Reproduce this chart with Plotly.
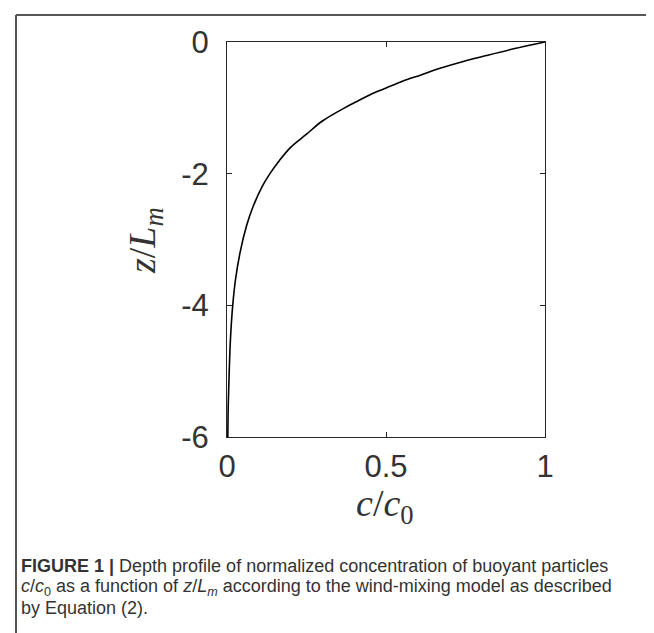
import plotly.graph_objects as go

# Depth profile
z_over_Lm = [0.0, -0.1, -0.2, -0.3, -0.4, -0.5, -0.6, -0.7, -0.8, -0.9, -1.0, -1.2, -1.4,
             -1.6, -1.8, -2.0, -2.2, -2.5, -2.8, -3.2, -3.6, -4.0, -4.5, -5.0, -5.5, -6.0]
c_over_c0 = [1.0, 0.905, 0.82, 0.74, 0.67, 0.61, 0.55, 0.50, 0.45, 0.41, 0.37, 0.30, 0.25,
             0.20, 0.165, 0.135, 0.11, 0.082, 0.061, 0.041, 0.027, 0.018, 0.011, 0.007, 0.004, 0.0025]

x_tickvals = [0, 0.5, 1]
x_ticktext = ["0", "0.5", "1"]
y_tickvals = [0, -2, -4, -6]
y_ticktext = ["0", "-2", "-4", "-6"]

W, H = 654, 633
L, R, T, B = 219, 537, 34, 429

fig = go.Figure()
fig.add_trace(go.Scatter(x=c_over_c0, y=z_over_Lm, mode="lines",
                         line=dict(color="black", width=1.6), line_shape="spline",
                         showlegend=False, hoverinfo="skip"))

axis_common = dict(showgrid=False, zeroline=False, showline=True, linecolor="#262626",
                   linewidth=1, mirror="ticks", ticks="inside", ticklen=5,
                   tickcolor="#262626", tickwidth=1,
                   tickfont=dict(family="Liberation Sans, Arial, sans-serif", size=31, color="#333333"))

fig.update_xaxes(range=[0, 1], tickvals=x_tickvals, ticktext=x_ticktext,
                 ticklabelstandoff=2, **axis_common)
fig.update_yaxes(range=[-6, 0], tickvals=y_tickvals, ticktext=y_ticktext,
                 ticklabelstandoff=11, **axis_common)

fig.update_layout(
    width=W, height=H,
    margin=dict(l=L, r=W - R, t=T, b=H - B, pad=0),
    paper_bgcolor="white", plot_bgcolor="white",
)

# paper coords are relative to the plot area
def px(x):
    return (x - L) / (R - L)

def py(y):
    return (B - y) / (B - T)

# axis titles
fig.add_annotation(x=px(377), y=py(498), xref="paper", yref="paper",
                   text="<i>c</i>/<i>c</i><sub>0</sub>", showarrow=False,
                   font=dict(family="Liberation Serif, DejaVu Serif, serif", size=38, color="#333333"),
                   xanchor="center", yanchor="middle")
fig.add_annotation(x=px(137), y=py(233), xref="paper", yref="paper",
                   text="<i>z</i>/<i>L</i><sub><i>m</i></sub>", showarrow=False, textangle=-90,
                   font=dict(family="Liberation Serif, DejaVu Serif, serif", size=38, color="#333333"),
                   xanchor="center", yanchor="middle")

# caption
cap_font = dict(family="Liberation Sans, Arial, sans-serif", size=18, color="#333333")
cap_lines = [
    "<b>FIGURE 1 |</b> Depth profile of normalized concentration of buoyant particles",
    "<i>c</i>/<i>c</i><sub>0</sub> as a function of <i>z</i>/<i>L</i><sub><i>m</i></sub> according to the wind-mixing model as described",
    "by Equation (2).",
]
cap_y = [558, 579, 600]
for t, yy in zip(cap_lines, cap_y):
    fig.add_annotation(x=px(11), y=py(yy), xref="paper", yref="paper", text=t,
                       showarrow=False, font=cap_font, xanchor="left", yanchor="middle", align="left")

# outer frame (top and left edges)
fig.add_shape(type="line", xref="paper", yref="paper", x0=px(8), x1=px(W), y0=py(7), y1=py(7),
              line=dict(color="#555555", width=2))
fig.add_shape(type="line", xref="paper", yref="paper", x0=px(8), x1=px(8), y0=py(7), y1=py(H),
              line=dict(color="#555555", width=2))

fig.write_html("out.html")
